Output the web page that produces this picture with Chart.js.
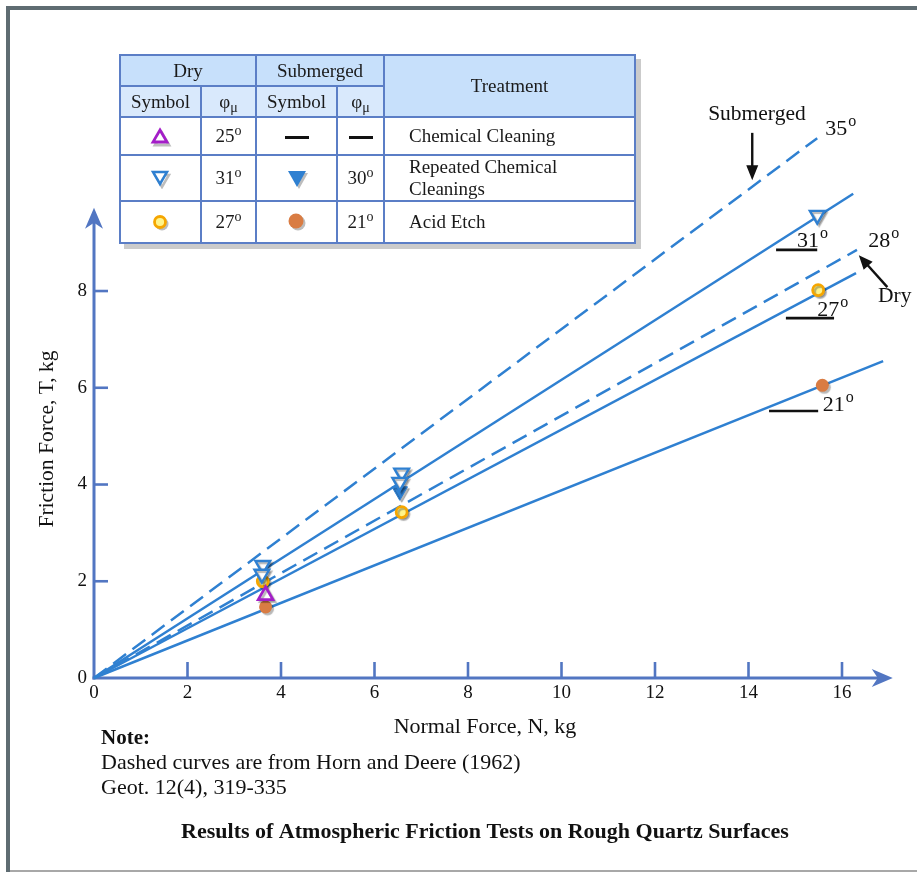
<!DOCTYPE html>
<html><head><meta charset="utf-8">
<script src="https://cdn.jsdelivr.net/npm/chart.js@4.4.1/dist/chart.umd.min.js"></script>
<style>
html,body{margin:0;padding:0;background:#fff;}
#wrap{position:relative;width:917px;height:872px;overflow:hidden;background:#fff;}
#c{position:absolute;left:0;top:0;}
#legend{position:absolute;left:119px;top:54px;border-collapse:collapse;table-layout:fixed;width:515px;
  font-family:"Liberation Serif","Times New Roman",serif;font-size:19px;color:#1a1a1a;background:#fff;
  box-shadow:5px 5px 0 #cbcbcb;}
#legend td{border:2px solid #5b7ec6;padding:0;text-align:center;vertical-align:middle;line-height:22px;}
#legend tr.h1 td{background:#c7e0fb;}
#legend tr.h2 td{background:#d9e9fc;}
#legend td.treat{background:#c7e0fb;}
#legend td.tl{text-align:left;padding-left:24px;white-space:pre-line;}
#legend sup{font-size:14px;vertical-align:7px;line-height:0;}
#legend sub{font-size:14px;vertical-align:-4px;line-height:0;}
.bar{display:inline-block;width:24px;height:3px;background:#111;vertical-align:middle;}
svg{vertical-align:middle;}
</style></head>
<body>
<div id="wrap">
<canvas id="c" width="917" height="872"></canvas>
<table id="legend"></table>
</div>
<script>
// ---------- data ----------
const xTicks = [0, 2, 4, 6, 8, 10, 12, 14, 16];
const yTicks = [0, 2, 4, 6, 8];

// fitted lines (start at origin), end points
const lineNames  = ['Submerged (Horn & Deere)', 'Dry 31°', 'Dry (Horn & Deere)', 'Dry 27°', 'Submerged 21°'];
const lineAngles = [35, 31, 28, 27, 21];
const lineEndX   = [15.47, 16.24, 16.32, 16.30, 16.88];
const lineEndY   = [11.16, 10.01, 8.85, 8.37, 6.55];

// measured points
const dryChemX = [3.67];                           const dryChemY = [1.71];
const dryRepX  = [3.61, 3.59, 6.58, 6.54, 15.47];  const dryRepY  = [2.33, 2.15, 4.24, 4.05, 9.57];
const subRepX  = [6.54];                           const subRepY  = [3.86];
const dryAcidX = [3.61, 6.58, 15.49];              const dryAcidY = [2.00, 3.43, 8.02];
const subAcidX = [3.67, 15.58];                    const subAcidY = [1.47, 6.05];

// legend table
const treatments = ['Chemical Cleaning', 'Repeated Chemical\nCleanings', 'Acid Etch'];
const dryPhi = [25, 31, 27];
const subPhi = [null, 30, 21];

// ---------- styles ----------
const FONT = '"Liberation Serif","Times New Roman",serif';
const AXIS = '#5276c2';
const LINE = '#2f80d1';
const PURPLE = '#a41ec8';
const YEL = '#fff48a', YEL_B = '#f5a600';
const ORANGE = '#d97c43';

const pts = (xs, ys) => xs.map((v, i) => ({x: v, y: ys[i]}));

// legend symbols
function sym(kind){
  const sh = '#bdbdbd';
  if(kind==='triUp'){
    return `<svg width="22" height="20"><polygon points="10,4 17,16 3,16" fill="none" stroke="${sh}" stroke-width="2.8" transform="translate(2,2)"/><polygon points="10,3 17,15 3,15" fill="#fff" stroke="${PURPLE}" stroke-width="2.8"/></svg>`;
  }
  if(kind==='triDownOpen'){
    return `<svg width="22" height="20"><polygon points="3,4 17,4 10,16" fill="none" stroke="${sh}" stroke-width="2.5" transform="translate(2,2)"/><polygon points="3,3 17,3 10,15" fill="#fff" stroke="${LINE}" stroke-width="2.5"/></svg>`;
  }
  if(kind==='triDownFill'){
    return `<svg width="24" height="22"><polygon points="3,3 21,3 12,19" fill="${sh}" transform="translate(2,2)"/><polygon points="3,3 21,3 12,19" fill="${LINE}"/></svg>`;
  }
  if(kind==='circOpen'){
    return `<svg width="22" height="22"><circle cx="12" cy="12" r="6.5" fill="${sh}"/><circle cx="10" cy="10" r="5.5" fill="${YEL}" stroke="${YEL_B}" stroke-width="2.8"/></svg>`;
  }
  if(kind==='circFill'){
    return `<svg width="24" height="24"><circle cx="13" cy="13" r="7.5" fill="${sh}"/><circle cx="11" cy="11" r="7.5" fill="${ORANGE}"/></svg>`;
  }
  return '<span class="bar"></span>';
}
const drySyms = ['triUp', 'triDownOpen', 'circOpen'];
const subSyms = ['bar', 'triDownFill', 'circFill'];
(function buildTable(){
  const rowsH = [38, 46, 42];
  let h = `<colgroup><col style="width:81px"><col style="width:55px"><col style="width:81px"><col style="width:47px"><col style="width:251px"></colgroup>`;
  h += `<tr class="h1" style="height:31px"><td colspan="2">Dry</td><td colspan="2">Submerged</td><td rowspan="2" class="treat">Treatment</td></tr>`;
  h += `<tr class="h2" style="height:31px"><td>Symbol</td><td>φ<sub>μ</sub></td><td>Symbol</td><td>φ<sub>μ</sub></td></tr>`;
  treatments.forEach((t, i) => {
    const sp = subPhi[i] == null ? '<span class="bar"></span>' : `${subPhi[i]}<sup>o</sup>`;
    h += `<tr style="height:${rowsH[i]}px"><td>${sym(drySyms[i])}</td><td>${dryPhi[i]}<sup>o</sup></td><td>${sym(subSyms[i])}</td><td>${sp}</td><td class="tl">${t}</td></tr>`;
  });
  document.getElementById('legend').innerHTML = h;
})();

// ---------- datasets ----------
const lineDash = [[16, 8], [], [16, 8], [], []];
const lineSets = lineEndX.map((ex, i) => ({
  label: lineNames[i],
  data: [{x: 0, y: 0}, {x: ex, y: lineEndY[i]}],
  showLine: true, borderColor: LINE, borderWidth: 2.5, borderDash: lineDash[i],
  pointRadius: 0, clip: false, order: 2, fill: false
}));
const markerSets = [
  {label: 'Dry chemical cleaning', data: pts(dryChemX, dryChemY), pointStyle: 'triangle', rotation: 0,
   pointRadius: 8.5, backgroundColor: '#fff', borderColor: PURPLE, borderWidth: 2.7},
  {label: 'Dry repeated cleanings', data: pts(dryRepX, dryRepY), pointStyle: 'triangle', rotation: 180,
   pointRadius: 8.5, backgroundColor: '#fff', borderColor: LINE, borderWidth: 2.4},
  {label: 'Submerged repeated cleanings', data: pts(subRepX, subRepY), pointStyle: 'triangle', rotation: 180,
   pointRadius: 9, backgroundColor: LINE, borderColor: LINE, borderWidth: 1},
  {label: 'Dry acid etch', data: pts(dryAcidX, dryAcidY), pointStyle: 'circle',
   pointRadius: 5.5, backgroundColor: YEL, borderColor: YEL_B, borderWidth: 2.8},
  {label: 'Submerged acid etch', data: pts(subAcidX, subAcidY), pointStyle: 'circle',
   pointRadius: 6.5, backgroundColor: ORANGE, borderColor: ORANGE, borderWidth: 0}
].map(d => Object.assign(d, {showLine: false, clip: false, order: 0}));

// ---------- plugins ----------
function arrowHead(ctx, tx, ty, ang, len, half, notch){
  ctx.save(); ctx.translate(tx, ty); ctx.rotate(ang);
  ctx.beginPath(); ctx.moveTo(0, 0); ctx.lineTo(-len, -half); ctx.lineTo(-len + notch, 0); ctx.lineTo(-len, half);
  ctx.closePath(); ctx.fill(); ctx.restore();
}
const axesPlugin = {
  id: 'axesDraw',
  beforeDatasetsDraw(chart){
    const {ctx, scales: {x, y}} = chart;
    const x0 = x.getPixelForValue(0), y0 = y.getPixelForValue(0);
    const xe = x.getPixelForValue(x.max), ye = y.getPixelForValue(y.max);
    ctx.save();
    ctx.strokeStyle = AXIS; ctx.fillStyle = AXIS; ctx.lineWidth = 3; ctx.lineCap = 'butt';
    ctx.beginPath(); ctx.moveTo(x0 - 1.5, y0); ctx.lineTo(xe - 6, y0); ctx.stroke();
    ctx.beginPath(); ctx.moveTo(x0, y0 + 1.5); ctx.lineTo(x0, ye + 6); ctx.stroke();
    arrowHead(ctx, xe + 4, y0, 0, 21, 9, 6);
    arrowHead(ctx, x0, ye - 1, -Math.PI / 2, 21, 9, 6);
    ctx.lineWidth = 2.6;
    xTicks.filter(v => v > 0).forEach(v => {
      const px = x.getPixelForValue(v);
      ctx.beginPath(); ctx.moveTo(px, y0); ctx.lineTo(px, y0 - 16); ctx.stroke();
    });
    yTicks.filter(v => v > 0).forEach(v => {
      const py = y.getPixelForValue(v);
      ctx.beginPath(); ctx.moveTo(x0, py); ctx.lineTo(x0 + 14, py); ctx.stroke();
    });
    ctx.restore();
  },
  beforeDatasetDraw(chart, args){
    const ds = chart.data.datasets[args.index];
    if(ds.order === 0){
      chart.ctx.save();
      chart.ctx.shadowColor = 'rgba(0,0,0,0.28)'; chart.ctx.shadowOffsetX = 2; chart.ctx.shadowOffsetY = 2; chart.ctx.shadowBlur = 1;
    }
  },
  afterDatasetDraw(chart, args){
    const ds = chart.data.datasets[args.index];
    if(ds.order === 0) chart.ctx.restore();
  },
  afterDraw(chart){
    const {ctx, scales: {x, y}} = chart;
    const X = v => x.getPixelForValue(v), Y = v => y.getPixelForValue(v);
    ctx.save();
    ctx.fillStyle = '#111'; ctx.strokeStyle = '#111';
    // angle labels with superscript o
    function deg(n, px, py){
      ctx.font = `22px ${FONT}`; ctx.textAlign = 'left'; ctx.textBaseline = 'alphabetic';
      ctx.fillText(String(n), px, py);
      const w = ctx.measureText(String(n)).width;
      ctx.font = `16px ${FONT}`;
      ctx.fillText('o', px + w + 1, py - 9);
    }
    const angPos = [[15.64, 11.22], [15.04, 8.90], [16.56, 8.90], [15.47, 7.48], [15.59, 5.51]];
    lineAngles.forEach((a, i) => deg(a, X(angPos[i][0]), Y(angPos[i][1])));
    // underlines
    ctx.lineWidth = 2.6;
    [[14.59, 15.47, 8.85], [14.80, 15.83, 7.44], [14.44, 15.49, 5.52]].forEach(([a, b, v]) => {
      ctx.beginPath(); ctx.moveTo(X(a), Y(v)); ctx.lineTo(X(b), Y(v)); ctx.stroke();
    });
    // Submerged annotation
    ctx.font = `21.5px ${FONT}`; ctx.textAlign = 'center'; ctx.textBaseline = 'middle';
    ctx.fillText('Submerged', X(14.18), Y(11.66));
    ctx.lineWidth = 2.4;
    ctx.beginPath(); ctx.moveTo(X(14.08), Y(11.27)); ctx.lineTo(X(14.08), Y(10.45)); ctx.stroke();
    arrowHead(ctx, X(14.08), Y(10.29), Math.PI / 2, 15, 6, 0);
    // Dry annotation
    ctx.textAlign = 'left';
    ctx.fillText('Dry', X(16.77), Y(7.90));
    const ax1 = X(16.97), ay1 = Y(8.08), ax2 = X(16.36), ay2 = Y(8.74);
    const ang = Math.atan2(ay2 - ay1, ax2 - ax1);
    ctx.beginPath(); ctx.moveTo(ax1, ay1); ctx.lineTo(ax2 - 10 * Math.cos(ang), ay2 - 10 * Math.sin(ang)); ctx.stroke();
    arrowHead(ctx, ax2, ay2, ang, 14, 6, 0);
    // axis titles
    ctx.font = `22px ${FONT}`; ctx.textAlign = 'center'; ctx.textBaseline = 'middle';
    ctx.fillText('Normal Force, N, kg', 485, 727);
    ctx.save(); ctx.translate(47, 439); ctx.rotate(-Math.PI / 2);
    ctx.font = `21.5px ${FONT}`;
    ctx.fillText('Friction Force, T, kg', 0, 0); ctx.restore();
    // note
    ctx.textAlign = 'left';
    ctx.font = `bold 21px ${FONT}`; ctx.fillText('Note:', 101, 739);
    ctx.font = `22px ${FONT}`;
    ctx.fillText('Dashed curves are from Horn and Deere (1962)', 101, 763);
    ctx.fillText('Geot. 12(4), 319-335', 101, 788);
    // caption
    ctx.textAlign = 'center'; ctx.font = `bold 22px ${FONT}`;
    ctx.fillText('Results of Atmospheric Friction Tests on Rough Quartz Surfaces', 485, 832);
    // frame
    ctx.fillStyle = '#5f6c72';
    ctx.fillRect(6, 6, 911, 4); ctx.fillRect(6, 6, 4, 866);
    ctx.fillStyle = '#a8a8a8'; ctx.fillRect(10, 870, 907, 2);
    ctx.restore();
  }
};

new Chart(document.getElementById('c'), {
  type: 'scatter',
  data: {datasets: [...markerSets, ...lineSets]},
  options: {
    responsive: false, animation: false, devicePixelRatio: 1,
    layout: {padding: {left: 54, right: 28.25, top: 208.8, bottom: 0}},
    plugins: {legend: {display: false}, tooltip: {enabled: false}, title: {display: false}},
    scales: {
      x: {type: 'linear', min: 0, max: 17,
          afterFit(s){ s.height = 194; },
          afterBuildTicks(s){ s.ticks = xTicks.map(v => ({value: v})); },
          grid: {display: false, drawTicks: false}, border: {display: false},
          ticks: {font: {family: FONT, size: 19}, color: '#111', padding: 4, maxRotation: 0}},
      y: {type: 'linear', min: 0, max: 9.7,
          afterFit(s){ s.width = 40; },
          afterBuildTicks(s){ s.ticks = yTicks.map(v => ({value: v})); },
          grid: {display: false, drawTicks: false}, border: {display: false},
          ticks: {font: {family: FONT, size: 19}, color: '#111', padding: 7}}
    }
  },
  plugins: [axesPlugin]
});
</script>
</body></html>
